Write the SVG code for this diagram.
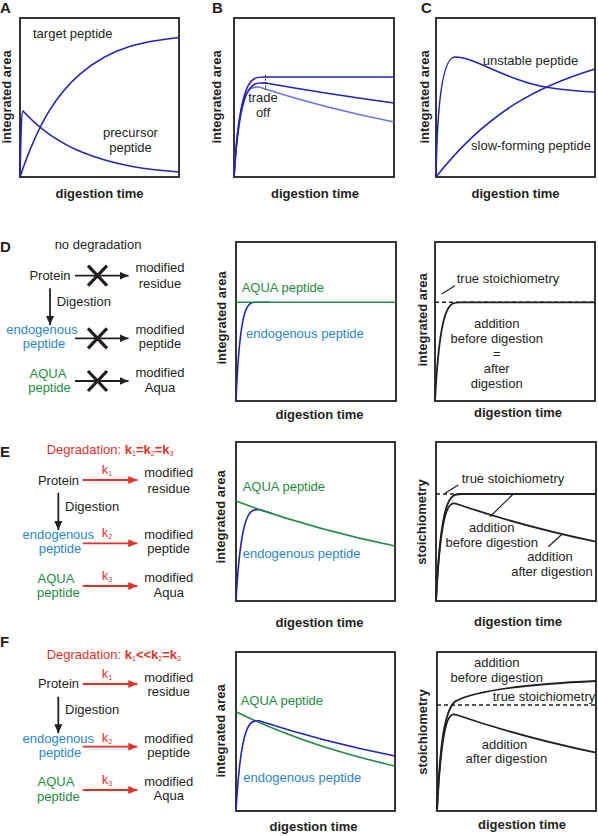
<svg xmlns="http://www.w3.org/2000/svg" width="598" height="836" viewBox="0 0 598 836">
<style>
text{font-family:"Liberation Sans",Arial,sans-serif;font-size:13px;fill:#231f20}
.c{text-anchor:middle}
.pl{font-size:15px;font-weight:bold}
.ax{font-weight:bold}
.bl{fill:#2a87c8}
.gr{fill:#1e8c42}
.rd{fill:#e03228}
.sb{font-size:7px}
.box{fill:none;stroke:#231f20;stroke-width:1.8}
.cv{fill:none;stroke:#2424b8;stroke-width:1.6}
.lc{fill:none;stroke:#7272e6;stroke-width:1.6}
.gc{fill:none;stroke:#1e8c42;stroke-width:1.6}
.kc{fill:none;stroke:#231f20;stroke-width:1.8}
.ds{fill:none;stroke:#231f20;stroke-width:1.5;stroke-dasharray:4,3}
.ld{fill:none;stroke:#231f20;stroke-width:1.2}
.ka{stroke:#231f20;stroke-width:1.8;marker-end:url(#ah)}
.ra{stroke:#e03228;stroke-width:1.8;marker-end:url(#rh)}
.xm{stroke:#231f20;stroke-width:3.2}
</style>
<defs>
<marker id="ah" markerUnits="userSpaceOnUse" markerWidth="10" markerHeight="9" refX="9" refY="4" orient="auto"><path d="M0,0 L9,4 L0,8 Z" fill="#231f20"/></marker>
<marker id="rh" markerUnits="userSpaceOnUse" markerWidth="10" markerHeight="9" refX="9" refY="4" orient="auto"><path d="M0,0 L9,4 L0,8 Z" fill="#e03228"/></marker>
</defs>

<!-- Panel A -->
<g id="panelA">
<text class="pl" x="0" y="13">A</text>
<rect class="box" x="20" y="18" width="159" height="159"/>
<text class="ax c" transform="translate(10.5,97) rotate(-90)">integrated area</text>
<text class="ax c" x="99.5" y="198">digestion time</text>
<path class="cv" d="M20,177 C40,117.3 60,91.5 80,74.1 C113,45.5 146,41.2 179,37.5"/>
<path class="cv" d="M20,177 C21,130 21.5,111 23,111 C43,132.9 63,144.5 83,152.6 C115,165.6 147,169.4 179,172"/>
<text x="33" y="38">target peptide</text>
<text class="c" x="130.5" y="137">precursor</text>
<text class="c" x="130.5" y="151.5">peptide</text>
</g>

<!-- Panel B -->
<g id="panelB">
<text class="pl" x="212" y="13">B</text>
<rect class="box" x="234" y="18" width="160" height="159"/>
<text class="ax c" transform="translate(220.5,97) rotate(-90)">integrated area</text>
<text class="ax c" x="315" y="198">digestion time</text>
<path class="lc" d="M234,177 C239,87 248,87 259,87 C304,101.8 349,113 394,122"/>
<path class="cv" d="M234,177 C240,82.7 251,82.7 264,82.7 C307.3,90.4 350.7,97 394,103"/>
<path class="cv" d="M234,177 C240,77 251,77 264,77 L394,77"/>
<line x1="265.5" y1="75" x2="265.5" y2="90" stroke="#231f20" stroke-width="1" stroke-dasharray="2,1.5"/>
<text class="c" x="263" y="101.5">trade</text>
<text class="c" x="263" y="117">off</text>
</g>

<!-- Panel C -->
<g id="panelC">
<text class="pl" x="421" y="13">C</text>
<rect class="box" x="436" y="18" width="159" height="159"/>
<text class="ax c" transform="translate(428.5,97) rotate(-90)">integrated area</text>
<text class="ax c" x="515.5" y="198">digestion time</text>
<path class="cv" d="M436,177 C437,110 442,57 455,57 C475,57 505,80 548,87.5 C565,90 580,91.5 595,92"/>
<path class="cv" d="M436,177 C489,109.3 542,85.2 595,69"/>
<text class="c" x="530.5" y="65">unstable peptide</text>
<text class="c" x="531" y="149.5">slow-forming peptide</text>
</g>

<!-- Panel D scheme -->
<g id="panelD-scheme">
<text class="pl" x="0" y="252">D</text>
<text class="c" x="98" y="249.3">no degradation</text>
<g id="D-protein"><text class="c" x="50" y="280">Protein</text></g>
<g id="D-residue"><text class="c" x="160" y="272.3">modified</text><text class="c" x="160" y="287.7">residue</text></g>
<g id="D-endo"><text class="c bl" x="42" y="334.3">endogenous</text><text class="c bl" x="44" y="348.3">peptide</text></g>
<g id="D-modpep"><text class="c" x="160" y="334.3">modified</text><text class="c" x="160" y="348.3">peptide</text></g>
<g id="D-aqua"><text class="c gr" x="48" y="377.8">AQUA</text><text class="c gr" x="49.5" y="392.2">peptide</text></g>
<g id="D-modaqua"><text class="c" x="160" y="377.3">modified</text><text class="c" x="160" y="391.5">Aqua</text></g>
<text x="56.7" y="305.7">Digestion</text>
</g>
<g id="D-connectors">
<line class="ka" x1="75" y1="275.7" x2="128.5" y2="275.7"/>
<line class="ka" x1="75" y1="338.3" x2="128.5" y2="338.3"/>
<line class="ka" x1="75" y1="381" x2="128.5" y2="381"/>
<line class="ka" x1="50" y1="288.3" x2="50" y2="325"/>
<path class="xm" d="M88,265.7 L107,285.7 M107,265.7 L88,285.7"/>
<path class="xm" d="M88,328.3 L107,348.3 M107,328.3 L88,348.3"/>
<path class="xm" d="M88,371 L107,391 M107,371 L88,391"/>
</g>

<!-- Panel D plots -->
<g id="D-plot1">
<rect class="box" x="236" y="242" width="160" height="159"/>
<text class="ax c" transform="translate(225.6,318) rotate(-90)">integrated area</text>
<text class="ax c" x="319.5" y="419.3">digestion time</text>
<path class="cv" d="M236,401 C240,302.3 247.5,302.3 256,302.3 L270,302.3"/>
<line class="gc" x1="236" y1="302.3" x2="396" y2="302.3"/>
<text class="gr" x="241.7" y="292.3">AQUA peptide</text>
<text class="bl" x="246" y="338.3">endogenous peptide</text>
</g>
<g id="D-plot2">
<rect class="box" x="435" y="242" width="160" height="159"/>
<text class="ax c" transform="translate(426.6,320) rotate(-90)">integrated area</text>
<text class="ax c" x="518" y="417.3">digestion time</text>
<line class="ds" x1="435" y1="302.3" x2="595" y2="302.3"/>
<path class="kc" d="M435,401 C440,302.3 449.4,302.3 460,302.3 L595,302.3"/>
<line class="ld" x1="441.7" y1="294" x2="455" y2="285.7"/>
<text x="456.7" y="283.3">true stoichiometry</text>
<text class="c" x="496.7" y="328.3">addition</text>
<text class="c" x="496.7" y="343.3">before digestion</text>
<text class="c" x="496.7" y="358.3">=</text>
<text class="c" x="496.7" y="373.3">after</text>
<text class="c" x="496.7" y="388.3">digestion</text>
</g>

<!-- Panel E scheme -->
<g id="panelE-scheme">
<text class="pl" x="0" y="457">E</text>
<text class="rd" x="46.7" y="454.3">Degradation: <tspan font-weight="bold">k</tspan><tspan class="sb" dy="2">1</tspan><tspan font-weight="bold" dy="-2">=k</tspan><tspan class="sb" dy="2">2</tspan><tspan font-weight="bold" dy="-2">=k</tspan><tspan class="sb" dy="2">3</tspan></text>
<g id="E-protein"><text class="c" x="58.5" y="485">Protein</text></g>
<g id="E-residue"><text class="c" x="168.7" y="477.3">modified</text><text class="c" x="168.7" y="492.7">residue</text></g>
<g id="E-endo"><text class="c bl" x="58.3" y="539.3">endogenous</text><text class="c bl" x="60" y="553.3">peptide</text></g>
<g id="E-modpep"><text class="c" x="168.7" y="539.3">modified</text><text class="c" x="168.7" y="553.3">peptide</text></g>
<g id="E-aqua"><text class="c gr" x="56" y="582.8">AQUA</text><text class="c gr" x="58.3" y="597.2">peptide</text></g>
<g id="E-modaqua"><text class="c" x="168.7" y="582.3">modified</text><text class="c" x="168.7" y="596.5">Aqua</text></g>
<text x="65" y="510.7">Digestion</text>
</g>
<g id="E-connectors">
<line class="ra" x1="82.7" y1="480" x2="137.3" y2="480"/>
<line class="ra" x1="82.7" y1="543.3" x2="137.3" y2="543.3"/>
<line class="ra" x1="82.7" y1="586" x2="137.3" y2="586"/>
<line class="ka" x1="58.3" y1="492.7" x2="58.3" y2="530"/>
<text class="rd" x="101.7" y="474.3">k<tspan class="sb" dy="2">1</tspan></text>
<text class="rd" x="101.7" y="537.3">k<tspan class="sb" dy="2">2</tspan></text>
<text class="rd" x="101.7" y="580">k<tspan class="sb" dy="2">3</tspan></text>
</g>

<!-- Panel E plots -->
<g id="E-plot1">
<rect class="box" x="236" y="442" width="159" height="159"/>
<text class="ax c" transform="translate(224.6,517) rotate(-90)">integrated area</text>
<text class="ax c" x="319.5" y="627">digestion time</text>
<path class="cv" d="M236,601 C241,509 250,509.5 259,509.5 L272,513.5"/>
<path class="gc" d="M236,501 C289,520.9 342,535 395,546"/>
<text class="gr" x="242.7" y="490.7">AQUA peptide</text>
<text class="bl" x="242.7" y="558.3">endogenous peptide</text>
</g>
<g id="E-plot2">
<rect class="box" x="436" y="442" width="160" height="159"/>
<text class="ax c" transform="translate(425.6,522) rotate(-90)">stoichiometry</text>
<text class="ax c" x="518" y="625.5">digestion time</text>
<line class="ds" x1="436" y1="494" x2="596" y2="494"/>
<path class="kc" d="M436,601 C441,494 450.4,494 461,494 L596,494"/>
<path class="kc" d="M436,601 C441,504 449,501.3 457,504 C503.4,519.9 549.6,532 596,541.7"/>
<line class="ld" x1="445" y1="493.3" x2="458.3" y2="485"/>
<text x="461.7" y="482.7">true stoichiometry</text>
<line class="ld" x1="490" y1="516.7" x2="513.3" y2="494"/>
<text class="c" x="491.7" y="532.3">addition</text>
<text class="c" x="491.7" y="546.7">before digestion</text>
<line class="ld" x1="548.3" y1="546.7" x2="561.7" y2="534.5"/>
<text class="c" x="550" y="560.7">addition</text>
<text class="c" x="552" y="575.7">after digestion</text>
</g>

<!-- Panel F scheme -->
<g id="panelF-scheme">
<text class="pl" x="0" y="647">F</text>
<text class="rd" x="46.7" y="659">Degradation: <tspan font-weight="bold">k</tspan><tspan class="sb" dy="2">1</tspan><tspan font-weight="bold" dy="-2">&lt;&lt;k</tspan><tspan class="sb" dy="2">2</tspan><tspan font-weight="bold" dy="-2">=k</tspan><tspan class="sb" dy="2">3</tspan></text>
<g id="F-protein"><text class="c" x="58.5" y="688.3">Protein</text></g>
<g id="F-residue"><text class="c" x="168.7" y="681.7">modified</text><text class="c" x="168.7" y="696">residue</text></g>
<g id="F-endo"><text class="c bl" x="58.3" y="742.7">endogenous</text><text class="c bl" x="60" y="757">peptide</text></g>
<g id="F-modpep"><text class="c" x="168.7" y="742.7">modified</text><text class="c" x="168.7" y="757">peptide</text></g>
<g id="F-aqua"><text class="c gr" x="56" y="786.3">AQUA</text><text class="c gr" x="58.3" y="800.7">peptide</text></g>
<g id="F-modaqua"><text class="c" x="168.7" y="786">modified</text><text class="c" x="168.7" y="800.2">Aqua</text></g>
<text x="65" y="714">Digestion</text>
</g>
<g id="F-connectors">
<line class="ra" x1="82.7" y1="684" x2="137.3" y2="684"/>
<line class="ra" x1="82.7" y1="746.7" x2="137.3" y2="746.7"/>
<line class="ra" x1="82.7" y1="790" x2="137.3" y2="790"/>
<line class="ka" x1="58.3" y1="696.7" x2="58.3" y2="733.3"/>
<text class="rd" x="101.7" y="678.3">k<tspan class="sb" dy="2">1</tspan></text>
<text class="rd" x="101.7" y="741.7">k<tspan class="sb" dy="2">2</tspan></text>
<text class="rd" x="101.7" y="784">k<tspan class="sb" dy="2">3</tspan></text>
</g>

<!-- Panel F plots -->
<g id="F-plot1">
<rect class="box" x="236" y="652" width="159" height="159"/>
<text class="ax c" transform="translate(224.6,731) rotate(-90)">integrated area</text>
<text class="ax c" x="313.5" y="831">digestion time</text>
<path class="gc" d="M236,711.7 C289,737.9 342,754.1 395,766"/>
<path class="cv" d="M236,811 C241,720.7 250,720.5 259,720.7 C304.3,735.6 349.7,746.9 395,756"/>
<text class="gr" x="240.7" y="705">AQUA peptide</text>
<text class="bl" x="243.3" y="781.7">endogenous peptide</text>
</g>
<g id="F-plot2">
<rect class="box" x="437" y="652" width="159" height="159"/>
<text class="ax c" transform="translate(426.6,732) rotate(-90)">stoichiometry</text>
<text class="ax c" x="522" y="828.5">digestion time</text>
<line class="ds" x1="437" y1="705" x2="596" y2="705"/>
<path class="kc" d="M437,811 C439.5,755 443,712 455,701.5 C475,690 530,684 596,681"/>
<path class="kc" d="M437,811 C442,715 449,712.3 457,715 C503.4,731 549.6,743 596,752.7"/>
<text class="c" x="496.7" y="667.3">addition</text>
<text class="c" x="496.7" y="682.3">before digestion</text>
<text x="492.7" y="700.7">true stoichiometry</text>
<text class="c" x="504.5" y="749">addition</text>
<text class="c" x="506.3" y="763.3">after digestion</text>
</g>
</svg>
